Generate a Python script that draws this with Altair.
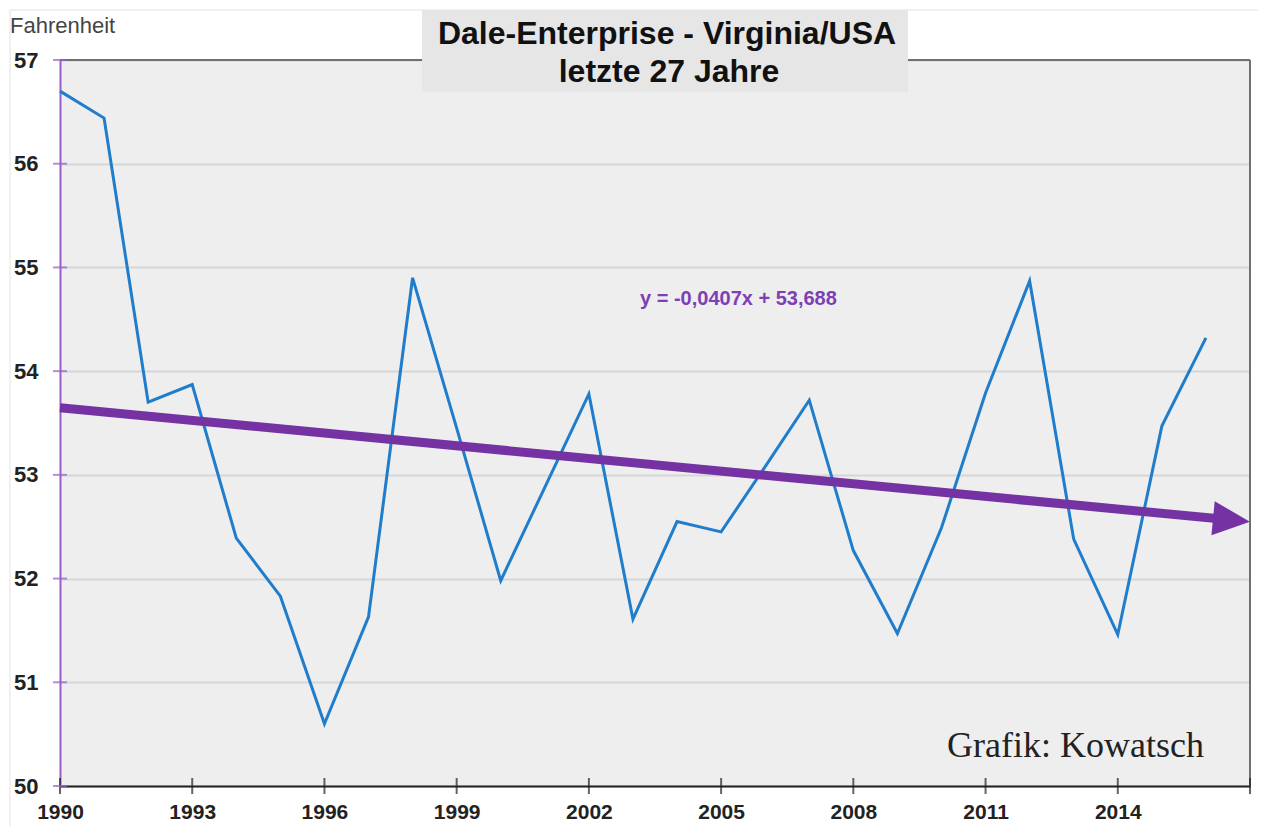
import altair as alt
import pandas as pd

# ---- data ----
years = list(range(1990, 2017))
temps = [56.70, 56.44, 53.70, 53.87, 52.39, 51.83, 50.60, 51.63, 54.90, 53.45,
         51.98, 52.88, 53.78, 51.61, 52.55, 52.45, 53.08, 53.72, 52.27, 51.47,
         52.49, 53.79, 54.87, 52.38, 51.46, 53.47, 54.32]

# linear trend y = -0.0407x + 53.688 (x = 1 for 1990)
trend_years = [1990, 2016.3]
trend_vals = [53.647, 52.576]
arrow_year = [2016.58]
arrow_val = [52.565]

y_ticks = [50, 51, 52, 53, 54, 55, 56, 57]
x_ticks = [1990, 1993, 1996, 1999, 2002, 2005, 2008, 2011, 2014, 2017]
x_labels = [1990, 1993, 1996, 1999, 2002, 2005, 2008, 2011, 2014]

title_lines = ["Dale-Enterprise - Virginia/USA", "letzte 27 Jahre"]
equation = "y = -0,0407x + 53,688"
eq_pos = [2003.16, 54.64]
credit = "Grafik: Kowatsch"
unit_label = "Fahrenheit"

W, H = 1190, 726
SANS = "Liberation Sans, Arial, sans-serif"
PURPLE = "#7432a3"
BLUE = "#1f7dcc"

xs = alt.Scale(domain=[1990, 2017], nice=False, zero=False)
ys = alt.Scale(domain=[50, 57], nice=False, zero=False)

x_axis = alt.Axis(values=x_labels, format="d", title=None, ticks=False, grid=False,
                  domainColor="#222222", domainWidth=2, labelFont=SANS, labelFontSize=21,
                  labelFontWeight="bold", labelColor="#222222", labelPadding=15,
                  labelFlush=False)
y_axis = alt.Axis(values=y_ticks, title=None, ticks=False, grid=True, gridColor="#d6d6d6",
                  gridWidth=2, domainColor="#9a5cc6", domainWidth=2, labelFont=SANS,
                  labelFontSize=22, labelFontWeight="bold", labelColor="#222222",
                  labelPadding=22, labelFlush=False)

X = lambda: alt.X("year:Q", scale=xs, axis=x_axis)
Y = lambda: alt.Y("temp:Q", scale=ys, axis=y_axis)

df = pd.DataFrame({"year": years, "temp": temps})
df_trend = pd.DataFrame({"year": trend_years, "temp": trend_vals})
df_arrow = pd.DataFrame({"year": arrow_year, "temp": arrow_val})
df_xt = pd.DataFrame({"year": x_ticks})
df_yt = pd.DataFrame({"temp": y_ticks})
one = pd.DataFrame({"k": [0]})

top_border = alt.Chart(pd.DataFrame({"temp": [57]})).mark_rule(
    color="#707070", strokeWidth=2).encode(y=Y())
right_border = alt.Chart(pd.DataFrame({"year": [2017]})).mark_rule(
    color="#707070", strokeWidth=2).encode(x=X())

frame_top = alt.Chart(one).mark_rule(color="#e2e2e2", strokeWidth=1).encode(
    x=alt.value(-50), x2=alt.value(1224), y=alt.value(-50))
frame_left = alt.Chart(one).mark_rule(color="#e2e2e2", strokeWidth=1).encode(
    x=alt.value(-50), y=alt.value(-50), y2=alt.value(H + 40))

line = alt.Chart(df).mark_line(color=BLUE, strokeWidth=3, strokeJoin="miter").encode(
    x=X(), y=Y())

trend = alt.Chart(df_trend).mark_line(color=PURPLE, strokeWidth=9, strokeCap="butt").encode(
    x=X(), y=Y())
arrow = alt.Chart(df_arrow).mark_point(
    shape="M-1,-0.92L1,0L-1,0.92Z", filled=True, opacity=1, color=PURPLE,
    size=1369, angle=5.5, strokeWidth=0).encode(x=X(), y=Y())

xt = alt.Chart(df_xt).mark_tick(color="#222222", thickness=2, size=16).encode(
    x=X(), y=alt.value(H))
yt = alt.Chart(df_yt).mark_tick(color="#9a5cc6", thickness=2, size=14).encode(
    y=Y(), x=alt.value(0))

eq = alt.Chart(pd.DataFrame({"year": [eq_pos[0]], "temp": [eq_pos[1]], "t": [equation]})).mark_text(
    align="left", baseline="alphabetic", font=SANS, fontSize=20, fontWeight="bold",
    color="#7e3fb5").encode(x=X(), y=Y(), text="t:N")

credit_t = alt.Chart(one).mark_text(
    align="left", baseline="alphabetic", font="Liberation Serif, Times New Roman, serif",
    fontSize=36, color="#222222").encode(
    x=alt.value(887), y=alt.value(H - 29), text=alt.value(credit))

unit_t = alt.Chart(one).mark_text(
    align="left", baseline="alphabetic", font=SANS, fontSize=22, color="#444444").encode(
    x=alt.value(-50), y=alt.value(-27), text=alt.value(unit_label))

title_box = alt.Chart(one).mark_rect(color="#e6e6e6").encode(
    x=alt.value(362), x2=alt.value(848), y=alt.value(-50), y2=alt.value(32))
title1 = alt.Chart(one).mark_text(
    align="center", baseline="alphabetic", font=SANS, fontSize=32, fontWeight="bold",
    color="#111111").encode(x=alt.value(607), y=alt.value(-16), text=alt.value(title_lines[0]))
title2 = alt.Chart(one).mark_text(
    align="center", baseline="alphabetic", font=SANS, fontSize=32, fontWeight="bold",
    color="#111111").encode(x=alt.value(609), y=alt.value(22), text=alt.value(title_lines[1]))

chart = alt.layer(
    frame_top, frame_left, top_border, right_border, line, trend, arrow, xt, yt,
    eq, credit_t, unit_t, title_box, title1, title2
).properties(
    width=W, height=H,
    padding={"left": 52, "top": 52, "right": 8, "bottom": 40},
    autosize=alt.AutoSizeParams(type="none"),
    background="white",
).configure_view(strokeWidth=0, fill="#eeeeee")

chart.save("out.html", embed_options={"renderer": "svg", "actions": False})
